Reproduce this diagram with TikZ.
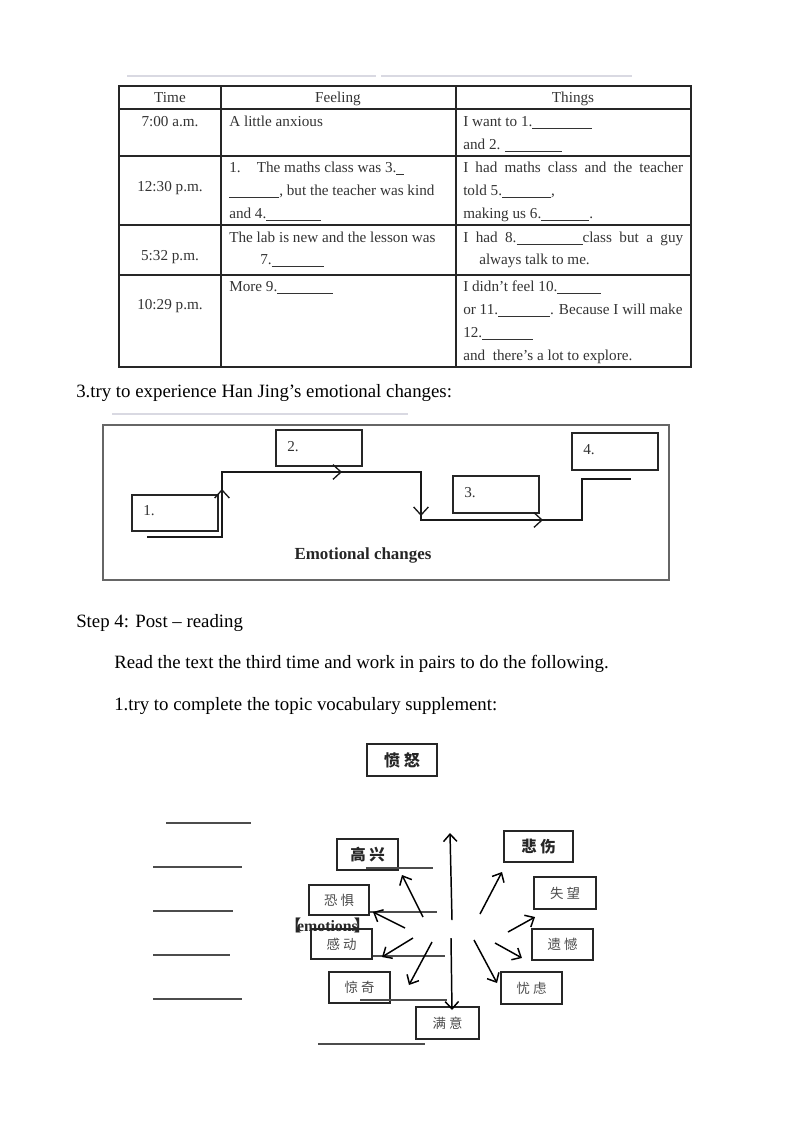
\documentclass[tikz,border=0pt]{standalone}
\usepackage{fontspec}
\setmainfont{Liberation Serif}
\newfontfamily\cjk{Noto Sans CJK SC}
\usetikzlibrary{arrows.meta}
\newlength\pxu
\setlength\pxu{0.744pt}
\newcommand\blnk[1]{\rule[-1.6pt]{#1\pxu}{0.45pt}}
\begin{document}
\begin{tikzpicture}[x=0.744pt,y=-0.744pt,
  tbl/.style={line width=0.8pt,draw=black!85},
  tt/.style={font=\fontsize{11.3}{12}\selectfont,text=black!80,inner sep=0pt,anchor=mid west,yshift=-1.5pt},
  ttc/.style={tt,anchor=mid},
  body/.style={font=\fontsize{14}{16}\selectfont,inner sep=0pt,anchor=mid west,yshift=-2pt},
  blue/.style={draw=blue!25!black!15!white,line width=0.9pt},
  frame/.style={draw=black!60,line width=1pt},
  ebox/.style={draw=black!85,line width=0.9pt,inner sep=0pt},
  flow/.style={line width=0.9pt,draw=black!90},
  barb/.style={flow,-{Straight Barb[length=6pt,width=11pt,line width=1pt]}},
  sz/.style 2 args={minimum width=#1*0.744pt,minimum height=#2*0.744pt},
  cb/.style={draw=black!85,line width=0.9pt,inner sep=0pt,text=black!70,font=\cjk\fontsize{10}{12}\selectfont},
  cbb/.style={cb,text=black!85,font=\cjk\bfseries\fontsize{11.5}{12}\selectfont},
  bl/.style={draw=black!70,line width=0.8pt},
  arr/.style={line width=1.1pt,-{Straight Barb[length=5.5pt,width=10pt,line width=1.1pt]}}
]
\useasboundingbox (0,0) rectangle (800,1132);
% ---------- table ----------
\draw[blue] (127,76) -- (376,76);
\draw[blue] (381,76) -- (632,76);
\draw[tbl] (119,86) rectangle (691,367);
\foreach \yy in {109,156,225,275} \draw[tbl] (119,\yy) -- (691,\yy);
\draw[tbl] (221,86) -- (221,367);
\draw[tbl] (456,86) -- (456,367);
\node[ttc] (h1) at (170,97) {Time};
\node[ttc] (h2) at (338,97) {Feeling};
\node[ttc] (h3) at (573,97) {Things};
\node[ttc] (t1) at (170,121) {7:00 a.m.};
\node[tt] (f1) at (229,121) {A little anxious};
\node[tt] (g1a) at (463,121) {I want to 1.\blnk{60}};
\node[tt] (g1b) at (463,144) {and 2. \blnk{57}};
\node[ttc] (t2) at (170,186) {12:30 p.m.};
\node[tt] (f2a) at (229,167) {1.\hspace{12pt}The maths class was 3.\blnk{8}};
\node[tt] (f2b) at (229,190) {\blnk{50}, but the teacher was kind};
\node[tt] (f2c) at (229,213) {and 4.\blnk{55}};
\node[tt] (g2a) at (463,167) {\makebox[220\pxu][s]{I had maths class and the teacher}};
\node[tt] (g2b) at (463,190) {told 5.\blnk{49},};
\node[tt] (g2c) at (463,213) {making us 6.\blnk{48}.};
\node[ttc] (t3) at (170,255) {5:32 p.m.};
\node[tt] (f3a) at (229,237) {The lab is new and the lesson was};
\node[tt] (f3b) at (260,259) {7.\blnk{52}};
\node[tt] (g3a) at (463,237) {\makebox[220\pxu][s]{I had 8.\blnk{66}class but a guy}};
\node[tt] (g3b) at (479,259) {always talk to me.};
\node[ttc] (t4) at (170,304) {10:29 p.m.};
\node[tt] (f4) at (229,286) {More 9.\blnk{56}};
\node[tt] (g4a) at (463,286) {I didn’t feel 10.\blnk{44}};
\node[tt] (g4b) at (463,309) {or 11.\blnk{52}. Because I will make};
\node[tt] (g4c) at (463,332) {12.\blnk{51}};
\node[tt] (g4d) at (463,355) {and\ \ there’s a lot to explore.};
% ---------- emotional changes ----------
\node[body] (s3) at (76,392) {3.try to experience Han Jing’s emotional changes:};
\draw[blue] (112,414) -- (408,414);
\draw[frame] (103,425) rectangle (669,580);
\node[ebox,sz={86}{36}] (b1) at (175,513) {};
\node[ebox,sz={86}{36}] (b2) at (319,448) {};
\node[ebox,sz={86}{37}] (b3) at (496,494.5) {};
\node[ebox,sz={86}{37}] (b4) at (615,451.5) {};
\node[tt] (b1t) at (143,510) {1.};
\node[tt] (b2t) at (287,446) {2.};
\node[tt] (b3t) at (464,492) {3.};
\node[tt] (b4t) at (583,449) {4.};
\coordinate (p0) at (147,537);
\coordinate (p1) at (222,537);
\coordinate (p2) at (222,472);
\coordinate (p3) at (421,472);
\coordinate (p4) at (421,520);
\coordinate (p5) at (582,520);
\coordinate (p6) at (582,479);
\coordinate (p7) at (631,479);
\draw[flow] (p0) -- (p1) -- (p2) -- (p3) -- (p4) -- (p5) -- (p6) -- (p7);
\coordinate (a1) at (222,489);
\coordinate (a2) at (342,472);
\coordinate (a3) at (421,516);
\coordinate (a4) at (543,520);
\draw[barb] (p1) -- (a1);
\draw[barb] (p2) -- (a2);
\draw[barb] (p3) -- (a3);
\draw[barb] (p4) -- (a4);
\node[font=\bfseries\fontsize{12.6}{14}\selectfont,text=black!85,inner sep=0pt,yshift=-1.5pt] (ec) at (363,553) {Emotional changes};
% ---------- step 4 ----------
\node[body] (st4) at (76,622) {Step 4: Post – reading};
\node[body] (rd) at (114,663) {Read the text the third time and work in pairs to do the following.};
\node[body] (tc) at (114,705) {1.try to complete the topic vocabulary supplement:};
% ---------- vocabulary diagram ----------
\node[cbb,sz={70}{32},font=\cjk\bfseries\fontsize{12}{12}\selectfont] (fn) at (402,760) {愤 怒};
\node[cbb,sz={61}{31}] (gx) at (367.5,854.5) {高 兴};
\node[cb,sz={60}{30}] (kj) at (339,900) {恐 惧};
\node[cb,sz={61}{30}] (gd) at (341.5,944) {感 动};
\node[cb,sz={61}{31}] (jq) at (359.5,987.5) {惊 奇};
\node[cb,sz={63}{32}] (my) at (447.5,1023) {满 意};
\node[cbb,sz={69}{31}] (bs) at (538.5,846.5) {悲 伤};
\node[cb,sz={62}{32}] (sw) at (565,893) {失 望};
\node[cb,sz={61}{31}] (yh) at (562.5,944.5) {遗 憾};
\node[cb,sz={61}{32}] (yl) at (531.5,988) {忧 虑};
\node[inner sep=0pt,anchor=mid west,font=\fontsize{11.8}{12}\selectfont,text=black!85] (em) at (285,928) {{\cjk\bfseries 【}\kern-3pt\textbf{emotions}\kern-3pt{\cjk\bfseries 】}};
% blanks on the left
\draw[bl] (166,823) -- (251,823);
\draw[bl] (153,867) -- (242,867);
\draw[bl] (153,911) -- (233,911);
\draw[bl] (153,955) -- (230,955);
\draw[bl] (153,999) -- (242,999);
% blanks near the boxes
\draw[bl] (366,868) -- (433,868);
\draw[bl] (370,912) -- (437,912);
\draw[bl] (373,956) -- (445,956);
\draw[bl] (360,1000) -- (447,1000);
\draw[bl] (318,1044) -- (425,1044);
% arrows
\coordinate (cu0) at (452,920);  \coordinate (cu1) at (450,833);
\coordinate (cd0) at (451,938);  \coordinate (cd1) at (452,1010);
\coordinate (r10) at (480,914);  \coordinate (r11) at (502,872);
\coordinate (r20) at (508,932);  \coordinate (r21) at (535,917);
\coordinate (r30) at (495,943);  \coordinate (r31) at (522,958);
\coordinate (r40) at (474,940);  \coordinate (r41) at (497,983);
\coordinate (l10) at (423,917);  \coordinate (l11) at (402,875);
\coordinate (l20) at (405,928);  \coordinate (l21) at (373,912);
\coordinate (l30) at (413,938);  \coordinate (l31) at (382,957);
\coordinate (l40) at (432,942);  \coordinate (l41) at (409,985);
\foreach \a in {cu,cd,r1,r2,r3,r4,l1,l2,l3,l4} \draw[arr] (\a0) -- (\a1);
\end{tikzpicture}
\end{document}
